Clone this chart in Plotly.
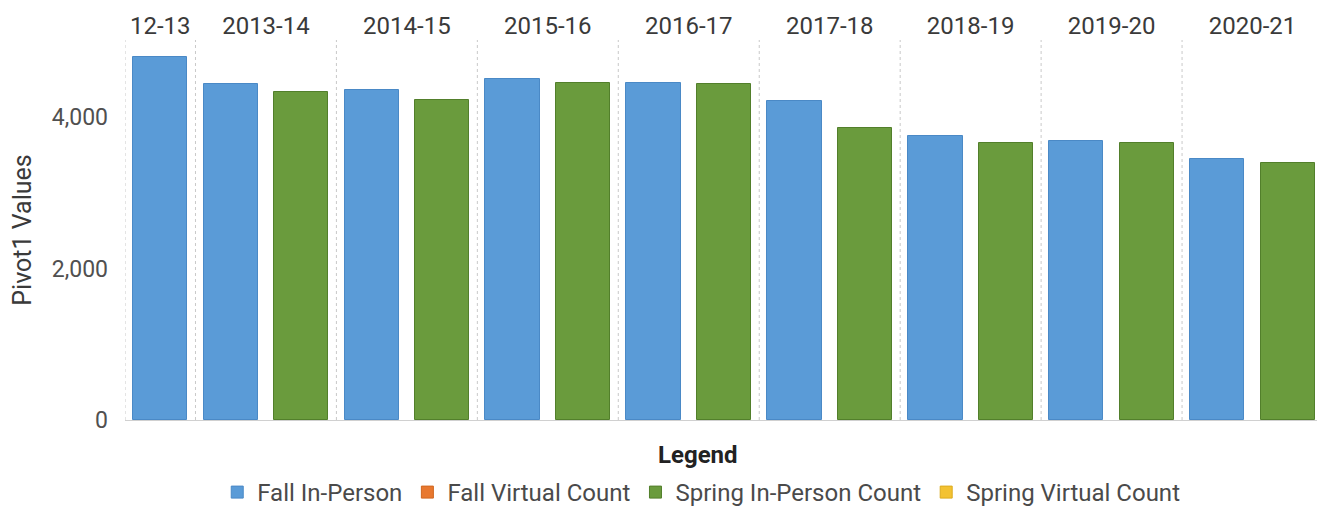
import plotly.graph_objects as go

# season columns across the top
seasons = ["12-13", "2013-14", "2014-15", "2015-16", "2016-17",
           "2017-18", "2018-19", "2019-20", "2020-21"]

# pivoted measures (None = no value for that season)
fall_in_person = [4790, 4440, 4355, 4500, 4450, 4210, 3750, 3685, 3445]
fall_virtual = [None] * 9
spring_in_person = [None, 4330, 4225, 4450, 4435, 3855, 3655, 3655, 3395]
spring_virtual = [None] * 9

measures = [
    ("Fall In-Person", fall_in_person, "#5a9bd7", "#4a89c6"),
    ("Fall Virtual Count", fall_virtual, "#e8782f", "#d0671f"),
    ("Spring In-Person Count", spring_in_person, "#6a9b3d", "#527f2b"),
    ("Spring Virtual Count", spring_virtual, "#f3c232", "#dcab1f"),
]

FONT = "Roboto"

# lay out slots: one slot per non-empty measure within each season pane
slot = 0
pos = {}          # (measure, season idx) -> slot centre
pane_edges = [0]
pane_mid = []
for i, s in enumerate(seasons):
    start = slot
    for name, vals, _, _ in measures:
        if vals[i] is not None:
            pos[(name, i)] = slot + 0.5
            slot += 1
    pane_edges.append(slot)
    pane_mid.append((start + slot) / 2)

fig = go.Figure()
for name, vals, col, edge in measures:
    xs = [pos[(name, i)] for i in range(len(seasons)) if vals[i] is not None]
    ys = [v for v in vals if v is not None]
    if not xs:
        # measure has no values: keep a null point so it still gets a legend entry
        xs, ys = [pane_mid[0]], [None]
    fig.add_trace(go.Bar(
        x=xs, y=ys, name=name, width=0.77,
        marker=dict(color=col, line=dict(color=edge, width=1)),
        showlegend=True,
    ))

# dotted pane separators
for e in pane_edges:
    fig.add_shape(type="line", xref="x", yref="paper", x0=e, x1=e, y0=0, y1=1,
                  line=dict(color="#c9c9c9", width=1, dash="dot"), layer="below")

fig.add_annotation(text="<b>Legend</b>", xref="paper", yref="paper",
                   x=0.478, y=-0.092, xanchor="center", yanchor="middle",
                   showarrow=False, font=dict(size=24, color="#222222"))

# page body adds an 8px margin, so the figure is sized to fit the window
fig.update_layout(
    width=1317, height=507,
    margin=dict(l=117, r=2, t=32, b=95),
    paper_bgcolor="white", plot_bgcolor="white",
    font=dict(family=FONT, size=23, color="#505050"),
    barmode="overlay",
    bargap=0,
    xaxis=dict(
        range=[0, slot], side="top", showgrid=False, zeroline=False,
        tickmode="array", tickvals=pane_mid, ticktext=seasons,
        ticks="", tickfont=dict(size=24, color="#3a3a3a"), automargin=False,
    ),
    yaxis=dict(
        range=[0, 5020], showgrid=False, tickvals=[0, 2000, 4000],
        tickformat=",", ticks="", ticklabelstandoff=16, automargin=False,
        tickfont=dict(size=23, color="#505050"),
        zeroline=True, zerolinecolor="#d0d0d0", zerolinewidth=1,
        title=dict(text="Pivot1 Values", font=dict(size=25, color="#3a3a3a"), standoff=14),
    ),
    legend=dict(
        orientation="h", x=0.481, xanchor="center",
        yref="container", y=0, yanchor="bottom",
        font=dict(size=24, color="#4a4a4a"),
        traceorder="normal", itemclick=False,
    ),
)

fig.write_html("out.html")
